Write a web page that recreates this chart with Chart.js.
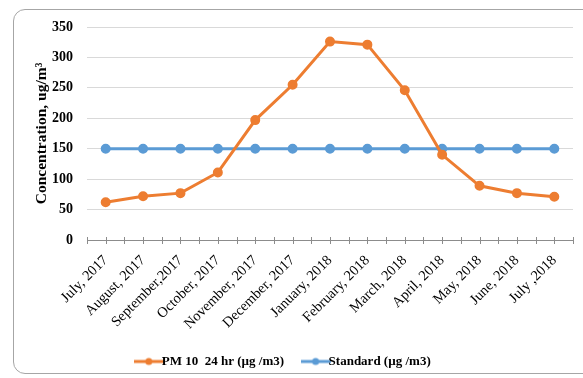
<!DOCTYPE html>
<html>
<head>
<meta charset="utf-8">
<script src="https://cdn.jsdelivr.net/npm/chart.js@4.4.1/dist/chart.umd.min.js"></script>
<style>
  html, body { margin: 0; padding: 0; background: #fff; overflow: hidden; }
  #wrap { position: relative; width: 583px; height: 378px; }
  #frame {
    position: absolute; left: 13px; top: 9px; width: 590px; height: 365px;
    border: 1px solid #a6a6a6; border-radius: 12px; box-sizing: border-box;
  }
  #chart { position: absolute; left: 0; top: 0; }
</style>
</head>
<body>
<div id="wrap">
  <div id="frame"></div>
  <canvas id="chart" width="583" height="378"></canvas>
</div>
<script>
const months = ["July, 2017", "August, 2017", "September,2017", "October, 2017", "November, 2017",
  "December, 2017", "January, 2018", "February, 2018", "March, 2018", "April, 2018",
  "May, 2018", "June, 2018", "July ,2018"];
const pm10 = [62, 72, 77, 111, 197, 255, 326, 321, 246, 140, 89, 77, 71];
const standard = [150, 150, 150, 150, 150, 150, 150, 150, 150, 150, 150, 150, 150];
const yTicks = [0, 50, 100, 150, 200, 250, 300, 350];

const ORANGE = "#ED7D31";
const BLUE = "#5B9BD5";
const serif = "'Liberation Serif', 'Times New Roman', serif";

// little line-with-dot swatch for the legend
function swatch(color) {
  let c = document.createElement("canvas");
  c.width = 30; c.height = 10;
  let g = c.getContext("2d");
  g.strokeStyle = color; g.lineWidth = 3;
  g.beginPath(); g.moveTo(0, 5); g.lineTo(30, 5); g.stroke();
  g.fillStyle = color;
  g.beginPath(); g.arc(15, 5, 3.5, 0, Math.PI * 2); g.fill();
  return c;
}

// cross tick marks on the category axis, at every boundary and every center
const axisTicks = {
  id: "axisTicks",
  afterDraw(chart) {
    const x = chart.scales.x, ctx = chart.ctx;
    const y0 = chart.chartArea.bottom;
    ctx.save();
    ctx.strokeStyle = "#8c8c8c";
    ctx.lineWidth = 1;
    for (let i = -0.5; i <= months.length - 0.5; i += 0.5) {
      const px = Math.round(x.getPixelForValue(i)) + 0.5;
      ctx.beginPath();
      ctx.moveTo(px, y0 - 3);
      ctx.lineTo(px, y0 + 4);
      ctx.stroke();
    }
    ctx.restore();
  }
};

new Chart(document.getElementById("chart"), {
  type: "line",
  data: {
    labels: months,
    datasets: [
      {
        label: "PM 10  24 hr (µg /m3)",
        data: pm10,
        borderColor: ORANGE,
        backgroundColor: ORANGE,
        borderWidth: 3,
        pointRadius: 3.5,
        pointHoverRadius: 3.5,
        tension: 0
      },
      {
        label: "Standard (µg /m3)",
        data: standard,
        borderColor: BLUE,
        backgroundColor: BLUE,
        borderWidth: 3,
        pointRadius: 3.5,
        pointHoverRadius: 3.5,
        tension: 0
      }
    ]
  },
  options: {
    responsive: false,
    animation: false,
    layout: { padding: { left: 0, right: 10, top: 27, bottom: 0 } },
    plugins: {
      tooltip: { enabled: false },
      legend: {
        position: "bottom",
        labels: {
          usePointStyle: true,
          color: "#000",
          font: { family: serif, size: 13, weight: "bold" },
          padding: 25,
          generateLabels(chart) {
            return chart.data.datasets.map((ds, i) => ({
              text: ds.label,
              pointStyle: swatch(ds.borderColor),
              fillStyle: ds.borderColor,
              strokeStyle: ds.borderColor,
              lineWidth: 0,
              hidden: false,
              datasetIndex: i,
              fontColor: "#000"
            }));
          }
        }
      }
    },
    scales: {
      x: {
        offset: true,
        grid: { display: false },
        border: { display: true, color: "#8c8c8c", width: 1 },
        ticks: {
          color: "#000",
          font: { family: serif, size: 14.5 },
          minRotation: 45,
          maxRotation: 45,
          autoSkip: false,
          padding: 4
        },
        afterFit(s) { s.height = 90; }
      },
      y: {
        min: 0,
        max: 350,
        afterBuildTicks(s) { s.ticks = yTicks.map(v => ({ value: v })); },
        grid: { color: "#d9d9d9", lineWidth: 1, drawTicks: false },
        border: { display: false },
        ticks: {
          color: "#000",
          font: { family: serif, size: 14, weight: "bold" },
          padding: 14
        },
        title: {
          display: true,
          text: "Concentration, ug/m³",
          color: "#000",
          font: { family: serif, size: 15.5, weight: "bold" },
          padding: { top: 33, bottom: 0 }
        },
        afterFit(s) { s.width = 87; }
      }
    }
  },
  plugins: [axisTicks]
});
</script>
</body>
</html>
